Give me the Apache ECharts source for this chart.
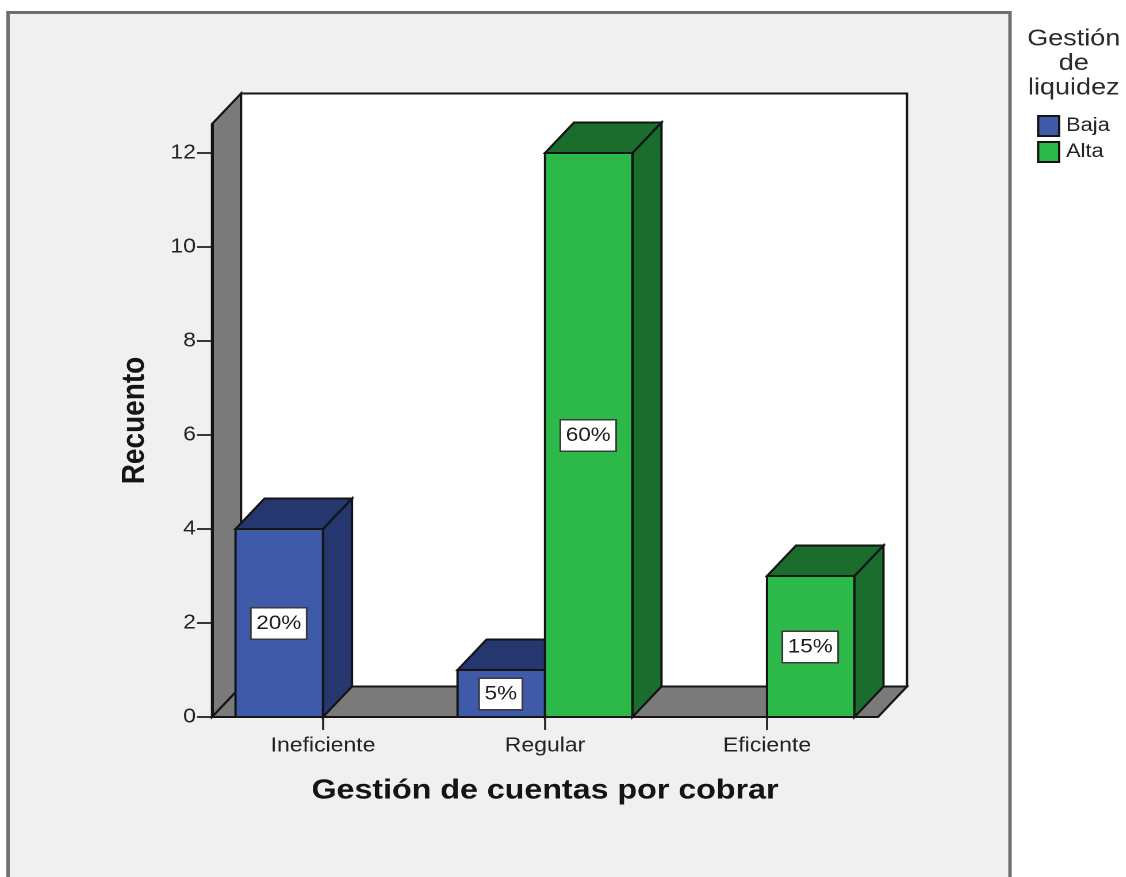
<!DOCTYPE html>
<html>
<head>
<meta charset="utf-8">
<style>
  html, body { margin: 0; padding: 0; background: #fff; overflow: hidden; }
  /* SPSS-style export: the whole chart is wider than it is tall, text included */
  #chart { position: absolute; left: 0; top: 0; height: 877px; transform-origin: 0 0; }
</style>
<script src="https://cdn.jsdelivr.net/npm/echarts@6/dist/echarts.min.js"></script>
</head>
<body>
<div id="chart"></div>
<script>
// Data
const categories = ['Ineficiente', 'Regular', 'Eficiente'];
const bajaValues = [4, 1, 0];
const altaValues = [0, 12, 3];
const bajaLabels = ['20%', '5%', ''];
const altaLabels = ['', '60%', '15%'];
const yTicks = [0, 2, 4, 6, 8, 10, 12];

// Page geometry
const STRETCH = 1.15;
const W = 1126, H = 877;
const sx = v => v / STRETCH;
const DEPTH_X = sx(29), DEPTH_Y = 30.5;
const BAR_FRACTION = 0.394;
const FONT = '"Liberation Sans", Arial, sans-serif';
const INK = '#141414';
const EDGE = 2;

const blue = { front: '#3e5aa8', dark: '#26366e' };
const green = { front: '#2db84a', dark: '#1b6d2e' };

const el = document.getElementById('chart');
el.style.width = sx(W) + 'px';
el.style.transform = 'scaleX(' + STRETCH + ')';

const chart = echarts.init(el, null, { devicePixelRatio: 2 });

function poly(points, fill) {
  return {
    type: 'polygon',
    shape: { points },
    style: { fill, stroke: INK, lineWidth: EDGE, lineJoin: 'miter' }
  };
}

// Back wall, side wall and floor of the 3D box
function renderBox(params) {
  const g = params.coordSys;
  const l = g.x, r = g.x + g.width, t = g.y, b = g.y + g.height;
  const dx = DEPTH_X, dy = DEPTH_Y;
  return {
    type: 'group',
    children: [
      poly([[l + dx, t - dy], [r + dx, t - dy], [r + dx, b - dy], [l + dx, b - dy]], '#ffffff'),
      poly([[l, t], [l + dx, t - dy], [l + dx, b - dy], [l, b]], '#7a7a7a'),
      poly([[l, b], [l + dx, b - dy], [r + dx, b - dy], [r, b]], '#7a7a7a')
    ]
  };
}

// One 3D bar: front, top and right faces plus the boxed percentage
function barRenderer(side, colors, labels) {
  return function (params, api) {
    const idx = api.value(0);
    const val = api.value(1);
    if (!val) return { type: 'group', children: [] };
    const band = api.size([1, 0])[0];
    const base = api.coord([idx, 0]);
    const top = api.coord([idx, val]);
    const mid = api.coord([idx, val / 2]);
    const w = band * BAR_FRACTION;
    const x0 = side < 0 ? base[0] - w : base[0];
    const x1 = x0 + w;
    const dx = DEPTH_X, dy = DEPTH_Y;
    return {
      type: 'group',
      children: [
        poly([[x1, top[1]], [x1 + dx, top[1] - dy], [x1 + dx, base[1] - dy], [x1, base[1]]], colors.dark),
        poly([[x0, top[1]], [x0 + dx, top[1] - dy], [x1 + dx, top[1] - dy], [x1, top[1]]], colors.dark),
        poly([[x0, top[1]], [x1, top[1]], [x1, base[1]], [x0, base[1]]], colors.front),
        {
          type: 'text',
          z2: 10,
          style: {
            x: (x0 + x1) / 2 - sx(0.5),
            y: mid[1] + 0.5,
            text: labels[idx],
            align: 'center',
            verticalAlign: 'middle',
            font: '19.5px ' + FONT,
            fill: '#1c1c1c',
            backgroundColor: '#ffffff',
            borderColor: '#3a3a3a',
            borderWidth: 1.5,
            padding: [7, 4, 3, 4]
          }
        }
      ]
    };
  };
}

const option = {
  animation: false,
  backgroundColor: '#ffffff',
  textStyle: { fontFamily: FONT },
  grid: { left: sx(212), width: sx(666), top: 124, height: 593 },
  title: {
    text: 'Gestión\nde\nliquidez',
    left: sx(1068),
    top: 22,
    textAlign: 'center',
    textStyle: { fontFamily: FONT, fontSize: 23.5, fontWeight: 'normal', color: '#2a2a2a', lineHeight: 24.5 }
  },
  legend: {
    left: sx(1037),
    top: 115,
    orient: 'vertical',
    itemWidth: sx(21),
    itemHeight: 20,
    itemGap: 4,
    padding: 0,
    icon: 'rect',
    selectedMode: false,
    data: ['Baja', 'Alta'],
    textStyle: { fontFamily: FONT, fontSize: 19, color: '#222', padding: [1, 0, 0, 1] }
  },
  xAxis: {
    type: 'category',
    data: categories,
    z: 10,
    axisLine: { lineStyle: { color: INK, width: 2 } },
    axisTick: { show: true, alignWithLabel: true, length: 13, lineStyle: { color: '#222', width: 1.8 } },
    axisLabel: { interval: 0, margin: 19, fontSize: 20, fontFamily: FONT, color: '#222' },
    name: 'Gestión de cuentas por cobrar',
    nameLocation: 'middle',
    nameGap: 60,
    nameTextStyle: { fontSize: 28, fontWeight: 'bold', fontFamily: FONT, color: '#141414' }
  },
  yAxis: {
    type: 'value',
    min: 0,
    max: 593 / 47,
    interval: 2,
    z: 10,
    splitLine: { show: false },
    axisLine: { show: true, lineStyle: { color: INK, width: 2 } },
    axisTick: { show: true, length: 13, customValues: yTicks, lineStyle: { color: '#222', width: 1.8 } },
    axisLabel: { customValues: yTicks, margin: 14, padding: [3, 0, 0, 0], fontSize: 20, fontFamily: FONT, color: '#222' },
    name: 'Recuento',
    nameLocation: 'middle',
    nameRotate: 90,
    nameGap: 53,
    nameTextStyle: { fontSize: 28, fontWeight: 'bold', fontFamily: FONT, color: '#141414' }
  },
  graphic: [{
    type: 'rect',
    z: -10,
    silent: true,
    shape: { x: sx(8), y: 12.5, width: sx(1002), height: 900 },
    style: { fill: '#f0f0f0', stroke: '#6e6e6e', lineWidth: 3 }
  }],
  series: [
    {
      type: 'custom',
      silent: true,
      z: 1,
      renderItem: renderBox,
      data: [[0, 0]],
      encode: { x: 0, y: 1 }
    },
    {
      name: 'Baja',
      type: 'custom',
      z: 2,
      itemStyle: { color: blue.front, borderColor: INK, borderWidth: 1.5 },
      renderItem: barRenderer(-1, blue, bajaLabels),
      data: bajaValues.map((v, i) => [i, v]),
      encode: { x: 0, y: 1 }
    },
    {
      name: 'Alta',
      type: 'custom',
      z: 3,
      itemStyle: { color: green.front, borderColor: INK, borderWidth: 1.5 },
      renderItem: barRenderer(1, green, altaLabels),
      data: altaValues.map((v, i) => [i, v]),
      encode: { x: 0, y: 1 }
    }
  ]
};

chart.setOption(option);
</script>
</body>
</html>
